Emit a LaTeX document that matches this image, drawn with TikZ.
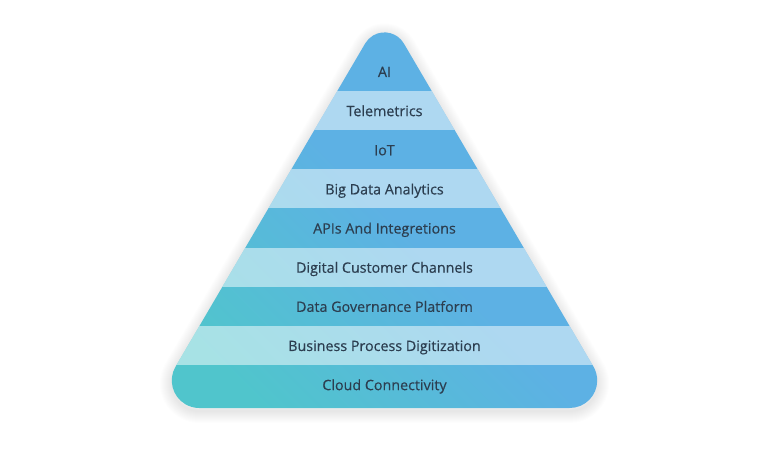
\documentclass[tikz,border=0pt]{standalone}
\usepackage{fontspec}
\setmainfont{Open Sans}
\newfontfamily\lblfont{Open Sans}[FakeBold=0.45]
\definecolor{tealc}{RGB}{80,197,204}
\definecolor{bluec}{RGB}{93,177,228}
\definecolor{txtc}{RGB}{44,62,80}
\pgfdeclarehorizontalshading{pyrshade}{100bp}{color(0bp)=(tealc); color(25bp)=(tealc); color(50bp)=(bluec); color(100bp)=(bluec)}
\begin{document}
\begin{tikzpicture}[x=1pt,y=1pt,
  lbl/.style={anchor=base, font=\lblfont\fontsize{14.3}{17}\selectfont, text=txtc, inner sep=0pt},
  shadowline/.style={draw=black, draw opacity=0.008, line join=round},
  lightband/.style={fill=white, fill opacity=0.5}]
\useasboundingbox (0,0) rectangle (770,450);
\def\pyrpath{(199.3,42) -- (569.7,42) arc[start angle=-90,end angle=30.42,radius=27.5] -- (403.82,406.54) arc[start angle=30.42,end angle=149.58,radius=22.4] -- (175.58,83.42) arc[start angle=149.58,end angle=270,radius=27.5] -- cycle}
% soft shadow
\foreach \w in {2,4,...,24}{
  \draw[shadowline, line width=\w pt, shift={(0,-3)}] \pyrpath;
}
\begin{scope}
  \clip \pyrpath;
  \shade[shading=pyrshade, shading angle=45] (140,30) rectangle (630,450);
  \foreach \i in {1,3,5,7}{
    \fill[lightband] (100,{450-(91+39.14*(\i-1))}) rectangle (700,{450-(91+39.14*\i)});
  }
\end{scope}
\node[lbl] (l1) at (384.5,373) {AI};
\node[lbl] (l2) at (384.5,333.86) {Telemetrics};
\node[lbl] (l3) at (384.5,294.72) {IoT};
\node[lbl] (l4) at (384.5,255.58) {Big Data Analytics};
\node[lbl] (l5) at (384.5,216.44) {APIs And Integretions};
\node[lbl] (l6) at (384.5,177.3) {Digital Customer Channels};
\node[lbl] (l7) at (384.5,138.16) {Data Governance Platform};
\node[lbl] (l8) at (384.5,99.02) {Business Process Digitization};
\node[lbl] (l9) at (384.5,59.88) {Cloud Connectivity};
\end{tikzpicture}
\end{document}
